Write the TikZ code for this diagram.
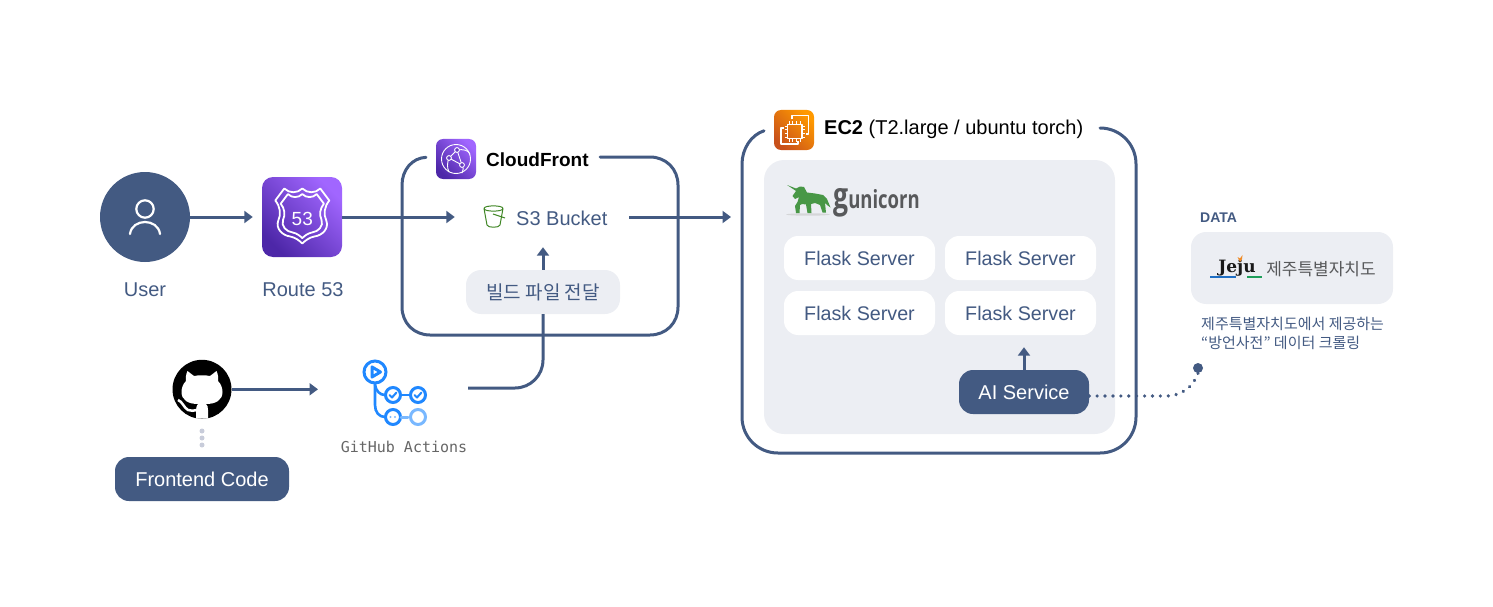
\documentclass[tikz,border=0pt]{standalone}
\usepackage{fontspec}
\usetikzlibrary{arrows.meta}
\setmainfont{Liberation Sans}
\newfontfamily\krfont{Noto Sans CJK KR}
\newfontfamily\codefont{DejaVu Sans Mono}
\newfontfamily\logofont{Open Sans}
\newfontfamily\jejufont{DejaVu Serif}
\definecolor{navy}{HTML}{435A82}
\definecolor{panel}{HTML}{ECEEF3}
\definecolor{dotgrey}{HTML}{C8CCDA}
\definecolor{logogrey}{HTML}{58595B}
\definecolor{ghblue}{HTML}{2088FF}
\definecolor{ghlight}{HTML}{79B8FF}
\definecolor{s3green}{HTML}{3F8624}
\definecolor{unigreen}{HTML}{489746}
\definecolor{purpleA}{HTML}{4D27A8}
\definecolor{purpleB}{HTML}{A166FF}
\definecolor{orangeA}{HTML}{C8511B}
\definecolor{orangeB}{HTML}{FF9900}
\definecolor{jejublue}{HTML}{1F6FC4}
\definecolor{jejugreen}{HTML}{1E9E5A}
\definecolor{jejuorange}{HTML}{F08A24}
\newcommand{\fs}[1]{\fontsize{#1}{#1}\selectfont}
\newcommand{\shieldhalf}{(0,-28) .. controls (-5,-23) and (-13,-23) .. (-18,-28) -- (-27,-16) .. controls (-22,-10) and (-21,-2) .. (-24,4) .. controls (-27,12) and (-20,19) .. (-12,20) .. controls (-7,21) and (-3,24) .. (0,27) .. controls (3,24) and (7,21) .. (12,20) .. controls (20,19) and (27,12) .. (24,4) .. controls (21,-2) and (22,-10) .. (27,-16) -- (18,-28) .. controls (13,-23) and (5,-23) .. (0,-28) -- cycle}
\tikzset{
  conn/.style={draw=navy,line width=3pt},
  arr/.style={conn,-{Triangle[length=8.5pt,width=12pt]}},
  frameline/.style={draw=navy,line width=3pt,line cap=round},
  darkpill/.style={fill=navy,text=white,rounded corners=14pt,inner sep=0pt,font=\fs{20}},
  lightpill/.style={fill=panel,text=navy,rounded corners=15pt,inner sep=0pt},
  whitepill/.style={fill=white,text=navy,rounded corners=14pt,inner sep=0pt,minimum width=151pt,minimum height=44pt,font=\fs{19.7}},
  label/.style={text=navy,inner sep=0pt,font=\fs{20}},
  purpletile/.style={rounded corners=#1,inner sep=0pt,bottom color=purpleA,top color=purpleB,shading angle=-45},
  orangetile/.style={rounded corners=#1,inner sep=0pt,bottom color=orangeA,top color=orangeB,shading angle=-45},
  iconline/.style={draw=white,line width=#1,line join=round,line cap=round},
  ghring/.style={draw=ghblue,line width=3pt,line cap=round},
  ghlite/.style={draw=ghlight,line width=3pt,line cap=round},
}
\begin{document}
\begin{tikzpicture}[x=1pt,y=-1pt]
\useasboundingbox (0,0) rectangle (1493,607);

% containers
\draw[frameline] (426,157.3) .. controls (412,158) and (402,170) .. (402,185) -- (402,307)
  .. controls (402,323) and (414,335) .. (430,335) -- (650,335)
  .. controls (666,335) and (678,323) .. (678,307) -- (678,185)
  .. controls (678,169) and (666,157) .. (650,157) -- (600,157);
\draw[frameline] (764,130.8) .. controls (751,135) and (742,149) .. (742,164) -- (742,417)
  .. controls (742,437) and (758,453) .. (778,453) -- (1100,453)
  .. controls (1120,453) and (1136,437) .. (1136,417) -- (1136,164)
  .. controls (1136,144) and (1120,128) .. (1100,128);
\node[fill=panel,rounded corners=20pt,minimum width=351pt,minimum height=274pt,inner sep=0pt] (gunipanel) at (939.5,297) {};

% user
\node[circle,fill=navy,minimum size=90pt,inner sep=0pt] (user) at (145,217) {};
\draw[iconline=2.2pt] (145,209) circle (8.7);
\draw[iconline=2.2pt] (130,234) .. controls (131,226) and (138,222) .. (145,222) .. controls (152,222) and (159,226) .. (160,234);
\node[label] (userlabel) at (145,290) {User};

% route 53
\node[purpletile=11pt,minimum size=80pt] (r53) at (302,217) {};
\begin{scope}[shift={(302.3,216.5)}]
  \draw[iconline=1.8pt] \shieldhalf;
  \draw[iconline=1.8pt,scale=0.8] \shieldhalf;
\end{scope}
\node[text=white,inner sep=0pt,font=\fs{19}] (r53num) at (302.3,219) {53};
\node[label] (r53label) at (303,290) {Route 53};

% cloudfront
\node[purpletile=7pt,minimum size=40pt] (cficon) at (456,159) {};
\draw[iconline=0.9pt] (456,159) circle (14.5);
\draw[iconline=0.9pt] (449,158) -- (457,150) -- (462,165) -- (449,158);
\draw[iconline=0.9pt] (449,158) .. controls (447,163) and (447,168) .. (449,172);
\draw[iconline=0.9pt] (457,150) .. controls (463,149) and (468,150) .. (470,154);
\draw[iconline=0.9pt] (462,165) .. controls (464,168) and (463,171) .. (462,173);
\draw[iconline=0.9pt,fill=purpleA!70!purpleB] (457,150) circle (2.4) (449,158) circle (2.4) (462,165) circle (2.4);
\node[anchor=west,inner sep=0pt,font=\fs{19}\bfseries] (cflabel) at (486,160) {CloudFront};

% s3
\node[inner sep=0pt,minimum width=130pt,minimum height=60pt] (s3) at (543,217) {};
\draw[s3green,line width=1pt,line join=round] (484,208.5) .. controls (484,205) and (503,205) .. (503,208.5) .. controls (503,212) and (484,212) .. (484,208.5)
  -- (487,225) .. controls (487.5,228) and (499.5,228) .. (500,225) -- (503,208.5);
\draw[s3green,line width=1pt] (493,214) -- (505,218);
\node[label,anchor=west] (s3label) at (516,218) {S3 Bucket};

\node[lightpill,minimum width=154pt,minimum height=44pt,font=\fs{19}\krfont] (build) at (543,292) {빌드 파일 전달};

% ec2
\node[orangetile=7pt,minimum size=40pt] (ec2icon) at (794,130) {};
\draw[iconline=1.4pt,line cap=butt] (792,119.5) -- (792,115.5) -- (808.5,115.5) -- (808.5,134) -- (805.5,134);
\draw[iconline=1.4pt,line cap=butt] (784,128) -- (781,128) -- (781,144) -- (798,144) -- (798,140.5);
\draw[iconline=1.4pt] (787.5,124.5) rectangle (802,138.5);
\foreach \p in {0,1,2,3}{
  \draw[white,line width=0.9pt] (789+3.8*\p,121.5) -- (789+3.8*\p,124);
  \draw[white,line width=0.9pt] (789+3.8*\p,139) -- (789+3.8*\p,141.5);
  \draw[white,line width=0.9pt] (784.5,126+3.7*\p) -- (787,126+3.7*\p);
  \draw[white,line width=0.9pt] (802.5,126+3.7*\p) -- (805,126+3.7*\p);
}
\node[anchor=west,inner sep=0pt,font=\fs{20}] (ec2label) at (824,129) {\textbf{EC2} (T2.large / ubuntu torch)};
\coordinate (ec2in) at (731,217);

% gunicorn logo
\fill[black!25,opacity=.5] (808,214.5) ellipse (22 and 1.2);
\fill[unigreen,line join=round] (787,185) -- (796,188.5) -- (800,186.5) -- (804,187) -- (807,192.5) -- (815,193.5) -- (823,195) -- (827,199) -- (830.5,207.5) -- (827,205) -- (825,203) -- (826,212.5) -- (822.5,212.5) -- (820,205) -- (815,203) -- (811,204) -- (811.5,213) -- (807.5,213) -- (806,204.5) -- (802,204) -- (800,205) -- (799.5,213) -- (796,213) -- (795,206) -- (797.5,202) -- (799,197) -- (795,199) -- (792.5,196) -- (796,191) -- cycle;
\node[anchor=base west,inner sep=0pt,text=logogrey,font=\logofont\bfseries] (gunitext) at (833,208.5) {\scalebox{.74}[1]{{\fs{36}g}{\fs{25}unicorn}}};

% flask
\node[whitepill] (fa) at (859.5,258) {Flask Server};
\node[whitepill] (fb) at (1020.5,258) {Flask Server};
\node[whitepill] (fc) at (859.5,313) {Flask Server};
\node[whitepill] (fd) at (1020.5,313) {Flask Server};
\node[darkpill,minimum width=130pt,minimum height=44pt] (ai) at (1024,392) {AI Service};

% github
\node[circle,fill=black,minimum size=59pt,inner sep=0pt] (gh) at (202,389.3) {};
\fill[white] (187.5,371) -- (194,376) .. controls (199,375) and (205,375) .. (210,376) -- (216.5,371)
  .. controls (218,374) and (218.5,378) .. (218,381) .. controls (221,384) and (222.5,388) .. (222.5,392)
  .. controls (222.5,400) and (216,404) .. (206,404) .. controls (207.5,405) and (208,407) .. (208,410) -- (208,418.5)
  -- (196,418.5) -- (196,410) .. controls (196,407) and (197,405) .. (198,404)
  .. controls (188,404) and (181.5,400) .. (181.5,392) .. controls (181.5,388) and (183,384) .. (186,381)
  .. controls (185.5,378) and (186,374) .. (187.5,371) -- cycle;
\draw[white,line width=2.5pt] (178,400) .. controls (182,401) and (184,408) .. (188,410) .. controls (191,411) and (194,411) .. (197,410);
\foreach \yy in {431,438,445} \fill[dotgrey] (202,\yy) circle (2.5);
\node[darkpill,minimum width=174pt,minimum height=44pt] (frontend) at (202,479) {Frontend Code};

% github actions
\node[circle,minimum size=36pt,inner sep=0pt] (ghact) at (393,395) {};
\draw[ghring] (375,372) circle (11);
\draw[ghring,line join=round] (372,367) -- (380.5,372) -- (372,377) -- cycle;
\draw[ghring,line width=2.6pt] (375,383) -- (375,405) .. controls (375,412) and (379,417) .. (385,417);
\draw[ghring,line width=2.6pt] (375,385) .. controls (376,391) and (380,395) .. (385,395);
\draw[ghring] (393,395) circle (7.5) (418,395) circle (7.5) (393,417) circle (7.5);
\draw[ghring,line width=2.6pt] (400.5,395) -- (410.5,395);
\draw[ghlite] (418,417) circle (7.5);
\draw[ghlite] (401,417) -- (408,417);
\draw[ghring,line width=2pt,line join=round] (389.5,395) -- (392,397.5) -- (396.5,392.5);
\draw[ghring,line width=2pt,line join=round] (414.5,395) -- (417,397.5) -- (421.5,392.5);
\fill[ghlight] (390.5,417) circle (1.2) (395,417) circle (1.2);
\node[inner sep=0pt,text=black!60,font=\fs{15}\codefont] (ghactlabel) at (404,447) {GitHub Actions};
\coordinate (ghactout) at (468,388);

% data
\node[anchor=west,inner sep=0pt,text=navy,font=\fs{14}\bfseries] (datalabel) at (1200,218) {DATA};
\node[lightpill,minimum width=202pt,minimum height=72pt] (databox) at (1292,268) {};
\node[inner sep=0pt,text=black!90,font=\fs{17}\jejufont\bfseries] (jeju) at (1237,268) {Jeju};
\fill[jejuorange] (1240,262) -- (1237.5,257) -- (1240,258.5) -- (1242.5,255) -- (1242,259) -- cycle;
\draw[draw=jejublue,line width=2pt] (1210,276.5) -- (1236,276.5);
\draw[draw=jejugreen,line width=2pt] (1247,276.5) -- (1262,276.5);
\node[inner sep=0pt,text=logogrey,font=\fs{17}\krfont] (jejutext) at (1321,269) {제주특별자치도};
\node[anchor=west,inner sep=0pt,text=navy,font=\fs{15}\krfont] (dataA) at (1201,324) {제주특별자치도에서 제공하는};
\node[anchor=west,inner sep=0pt,text=navy,font=\fs{15}\krfont] (dataB) at (1201,343) {“방언사전” 데이터 크롤링};
\node[circle,fill=navy,minimum size=10pt,inner sep=0pt] (datadot) at (1198,368) {};

% connectors
\draw[arr,shorten >=9pt] (user) -- (r53);
\draw[arr,shorten >=23pt] (r53) -- (s3.west);
\coordinate (s3out) at ([xshift=21pt]s3.east);
\draw[arr] (s3out) -- (ec2in);
\draw[arr] (build.north) -- (s3.south);
\draw[conn,rounded corners=28pt] (ghactout) -- (build.south |- ghactout) -- (build.south);
\draw[arr] (gh) -- (318,389.3);
\draw[arr,shorten >=12pt] (ai.north) -- (ai.north |- fd.south);
\coordinate (aiout) at ([yshift=-4pt]ai.east);
\draw[navy,line width=3.6pt,line cap=round,dash pattern=on 0.01pt off 7.9pt] (aiout) -- (1166,396) .. controls (1183,396) and (1194,385) .. (datadot.south);
\end{tikzpicture}
\end{document}
